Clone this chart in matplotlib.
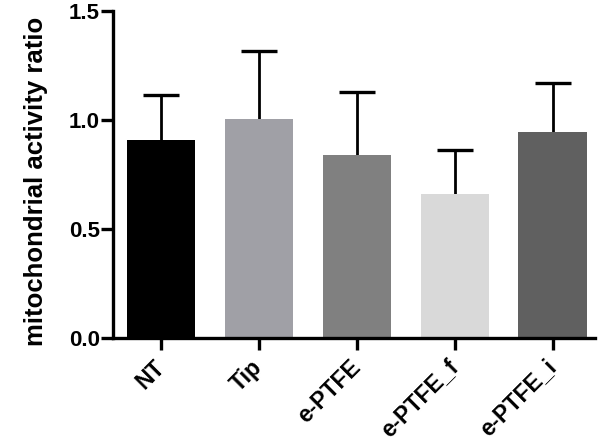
import matplotlib
matplotlib.use("Agg")
import matplotlib.pyplot as plt

categories = ["NT", "Tip", "e-PTFE", "e-PTFE_f", "e-PTFE_i"]
means = [0.91, 1.007, 0.841, 0.662, 0.947]
upper_err = [0.207, 0.309, 0.289, 0.202, 0.221]
colors = ["#000000", "#a0a0a6", "#808080", "#d9d9d9", "#606060"]
yticks = [0.0, 0.5, 1.0, 1.5]

plt.rcParams['font.family'] = ['Liberation Sans', 'DejaVu Sans']
plt.rcParams['font.weight'] = 'bold'

fig = plt.figure(figsize=(5.99, 4.44), dpi=100)
ax = fig.add_axes([0.189, 0.239, 0.804, 0.736])
x = list(range(len(categories)))
ax.bar(x, means, width=0.7, color=colors, zorder=2)
tops = [m + e for m, e in zip(means, upper_err)]
ax.errorbar(x, means, yerr=[[0]*len(means), upper_err], fmt='none', ecolor='black',
            elinewidth=2.0, capsize=0, zorder=1)
ax.plot(x, tops, ls='none', marker='_', ms=26, mew=2.4, color='black', zorder=1)
ax.set_xlim(-0.49, 4.43)
ax.set_ylim(0, 1.5)
ax.set_yticks(yticks)
ax.set_yticklabels([f"{v:.1f}" for v in yticks], fontsize=16, fontweight='bold')
ax.set_xticks(x)
ax.set_xticklabels(categories, rotation=45, ha='right', va='center', rotation_mode='anchor',
                   fontsize=16.5, fontweight='bold')
ax.set_ylabel("mitochondrial activity ratio", fontsize=18.5, fontweight='bold')
ax.yaxis.set_label_coords(-0.135, 0.48)
for s in ['top', 'right']:
    ax.spines[s].set_visible(False)
for s in ['left', 'bottom']:
    ax.spines[s].set_linewidth(2.4)
ax.tick_params(axis='both', direction='out', length=8.5, width=2.4, pad=1)
ax.tick_params(axis='x', pad=10)
fig.savefig("out.png", dpi=100)
